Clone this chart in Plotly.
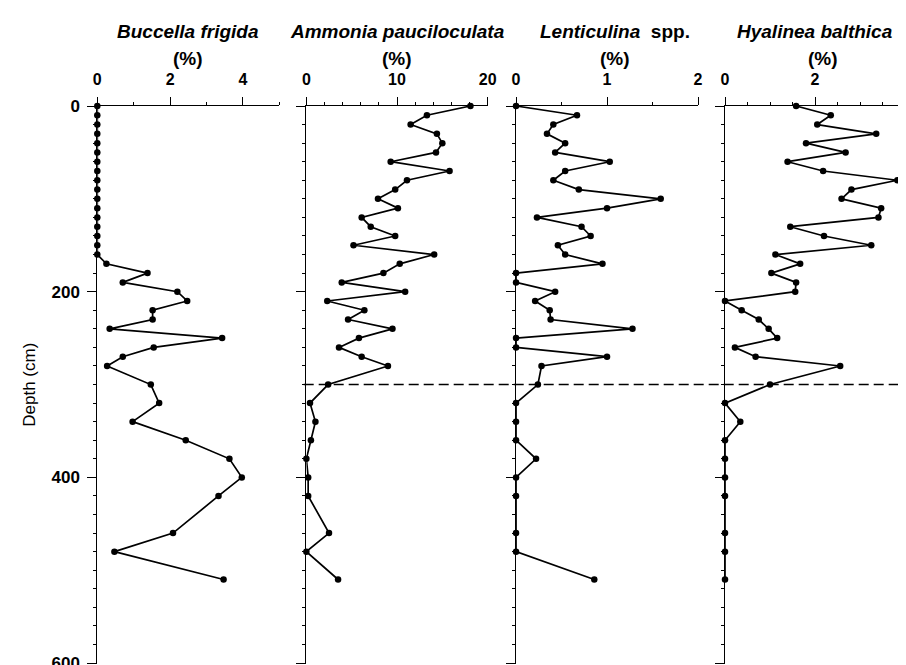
import plotly.graph_objects as go

# ---------------- data ----------------
depth_cm = [0, 10, 20, 30, 40, 50, 60, 70, 80, 90, 100, 110, 120, 130, 140, 150,
            160, 170, 180, 190, 200, 210, 220, 230, 240, 250, 260, 270, 280,
            300, 320, 340, 360, 380, 400, 420, 460, 480, 510]

buccella_frigida = [0, 0, 0, 0, 0, 0, 0, 0, 0, 0, 0, 0, 0, 0, 0, 0,
                    0, 0.25, 1.38, 0.70, 2.20, 2.47, 1.52, 1.52, 0.34, 3.43, 1.55, 0.70, 0.27,
                    1.47, 1.70, 0.97, 2.43, 3.63, 3.97, 3.33, 2.08, 0.47, 3.47]

ammonia_pauciloculata = [18.1, 13.3, 11.5, 14.4, 15.0, 14.3, 9.3, 15.8, 11.1, 9.8, 7.9, 10.1,
                         6.1, 7.1, 9.8, 5.2, 14.1, 10.3, 8.5, 3.9, 10.9, 2.3, 6.4, 4.6, 9.5,
                         5.8, 3.6, 6.1, 9.0,
                         2.4, 0.4, 1.0, 0.5, 0.0, 0.2, 0.2, 2.5, 0.0, 3.5]

lenticulina_spp = [0, 0.67, 0.41, 0.34, 0.54, 0.43, 1.03, 0.54, 0.41, 0.69, 1.59, 1.00,
                   0.23, 0.72, 0.82, 0.46, 0.54, 0.95, 0, 0, 0.43, 0.21, 0.37, 0.38, 1.28,
                   0, 0, 1.00, 0.28,
                   0.24, 0, 0, 0, 0.22, 0, 0, 0, 0, 0.86]

hyalinea_balthica = [1.58, 2.35, 2.05, 3.36, 1.80, 2.68, 1.39, 2.18, 3.83, 2.81, 2.59, 3.47,
                     3.41, 1.45, 2.20, 3.25, 1.12, 1.67, 1.03, 1.58, 1.56, 0, 0.37, 0.75, 0.97,
                     1.16, 0.22, 0.68, 2.56,
                     1.00, 0, 0.34, 0, 0, 0, 0, 0, 0, 0]

titles = ["<i><b>Buccella frigida</b></i>", "<i><b>Ammonia pauciloculata</b></i>",
          "<i><b>Lenticulina</b></i><b>&nbsp; spp.</b>", "<i><b>Hyalinea balthica</b></i>"]
x_ranges = [[0, 5], [0, 20], [0, 2], [0, 4]]
x_dticks = [2, 10, 1, 2]
x_minor = [1, 2, 0.5, 0.5]
depth_ticks = [0, 200, 400, 600]
depth_range = [601, 0]
boundary_depth = 300

series = [buccella_frigida, ammonia_pauciloculata, lenticulina_spp, hyalinea_balthica]

# ---------------- layout geometry ----------------
W, H = 906, 665
ML, MR, MT, MB = 89, 0, 98, 5
PW = W - ML - MR
PH = H - MT - MB
panel_left = [89.3, 300.7, 512.7, 724.0]
panel_right = [273.3, 484.0, 696.7, 906.0]


def px_x(p):
    return (p - ML) / PW


def px_y(p):
    return (H - MB - p) / PH


FONT = "Liberation Sans, Arial, sans-serif"

fig = go.Figure()
for i, vals in enumerate(series):
    k = "" if i == 0 else str(i + 1)
    fig.add_trace(go.Scatter(
        x=vals, y=depth_cm, mode="lines+markers",
        xaxis="x" + k, yaxis="y" + k,
        line=dict(color="black", width=1.7),
        marker=dict(color="black", size=6.5),
        cliponaxis=False, showlegend=False,
    ))

layout = dict(
    width=W, height=H,
    margin=dict(l=ML, r=MR, t=MT, b=MB, pad=0),
    paper_bgcolor="white", plot_bgcolor="white",
    font=dict(family=FONT, color="black"),
    showlegend=False,
)

annotations = []
for i in range(4):
    k = "" if i == 0 else str(i + 1)
    dom = [px_x(panel_left[i]), min(1.0, px_x(panel_right[i]))]
    layout["xaxis" + k] = dict(
        domain=dom, range=x_ranges[i], side="top", anchor="y" + k,
        showline=True, linecolor="black", linewidth=1,
        ticks="outside", ticklen=8, tickcolor="black", tickwidth=1,
        dtick=x_dticks[i], tick0=0,
        minor=dict(dtick=x_minor[i], tick0=0, ticks="outside", ticklen=3,
                   tickcolor="black", tickwidth=1),
        showgrid=False, zeroline=False,
        tickfont=dict(family=FONT, size=16, color="black", weight="bold"),
        ticklabelstandoff=6,
    )
    layout["yaxis" + k] = dict(
        domain=[0, 1], range=depth_range, anchor="x" + k,
        showline=True, linecolor="black", linewidth=1,
        ticks="outside", ticklen=9, tickcolor="black", tickwidth=1,
        tickmode="array", tickvals=depth_ticks,
        ticktext=[str(v) for v in depth_ticks],
        minor=dict(dtick=20, tick0=0, ticks="outside", ticklen=3,
                   tickcolor="black", tickwidth=1),
        showgrid=False, zeroline=False,
        showticklabels=(i == 0),
        ticklabeloverflow="allow",
        tickfont=dict(family=FONT, size=17, color="black", weight="bold"),
        ticklabelstandoff=4,
    )
    cx = (panel_left[i] + panel_right[i]) / 2
    annotations.append(dict(
        text=titles[i], xref="paper", yref="paper",
        x=px_x(cx + (8 if i == 2 else 0)), y=px_y(23),
        xanchor="center", yanchor="middle", showarrow=False,
        font=dict(family=FONT, size=19, color="black"),
    ))
    annotations.append(dict(
        text="<b>(%)</b>", xref="paper", yref="paper",
        x=px_x(cx + (8 if i >= 2 else 0)), y=px_y(50),
        xanchor="center", yanchor="middle", showarrow=False,
        font=dict(family=FONT, size=19, color="black"),
    ))

annotations.append(dict(
    text="Depth (cm)", xref="paper", yref="paper",
    x=px_x(20), y=0.5, textangle=-90,
    xanchor="center", yanchor="middle", showarrow=False,
    font=dict(family=FONT, size=17, color="black"),
))
layout["annotations"] = annotations

layout["shapes"] = [dict(
    type="line", xref="paper", yref="y",
    x0=px_x(298), x1=1.0, y0=boundary_depth, y1=boundary_depth,
    line=dict(color="black", width=1.6, dash="10px,5px"),
)]

fig.update_layout(**layout)
fig.write_html("out.html")
